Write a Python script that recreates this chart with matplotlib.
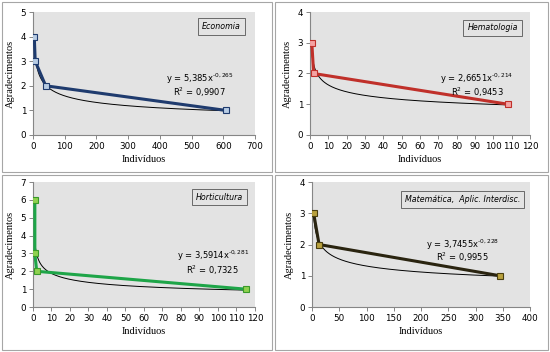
import numpy as np
import matplotlib
matplotlib.use("Agg")
import matplotlib.pyplot as plt
from matplotlib.patches import Rectangle

plt.rcParams['mathtext.default'] = 'regular'

# --- data ---
eco_x = [4, 7, 40, 608]
eco_y = [4, 3, 2, 1]
hem_x = [1, 2, 108]
hem_y = [3, 2, 1]
hor_x = [1, 1, 2, 115]
hor_y = [6, 3, 2, 1]
mat_x = [3, 13, 345]
mat_y = [3, 2, 1]

# power trendlines y = a * x^b (coefficients as printed)
eco_fit = (5.385, -0.265, '5,385', '0,265', '0,9907')
hem_fit = (2.6651, -0.214, '2,6651', '0,214', '0,9453')
hor_fit = (3.5914, -0.281, '3,5914', '0,281', '0,7325')
mat_fit = (3.7455, -0.228, '3,7455', '0,228', '0,9955')

panels = [
    dict(x=eco_x, y=eco_y, fit=eco_fit, title='Economia',
         pos=[0.06, 0.6165, 0.4036, 0.3494], xlim=700, xstep=100, ylim=5,
         line='#1F3B6E', face='#B8CCE4', edge='#1F3B6E',
         eq=(0.75, 0.46, 0.345), box=(0.85, 0.88)),
    dict(x=hem_x, y=hem_y, fit=hem_fit, title='Hematologia',
         pos=[0.5636, 0.6165, 0.40, 0.3494], xlim=120, xstep=10, ylim=4,
         line='#C0302A', face='#F4A3A3', edge='#C0302A',
         eq=(0.76, 0.46, 0.35), box=(0.83, 0.87)),
    dict(x=hor_x, y=hor_y, fit=hor_fit, title='Horticultura',
         pos=[0.06, 0.1278, 0.4036, 0.3551], xlim=120, xstep=10, ylim=7,
         line='#1EA548', face='#8FD14F', edge='#3A9A2A',
         eq=(0.81, 0.41, 0.29), box=(0.84, 0.88)),
    dict(x=mat_x, y=mat_y, fit=mat_fit, title='Matemática,  Aplic. Interdisc.',
         pos=[0.5673, 0.1278, 0.3964, 0.3551], xlim=400, xstep=50, ylim=4,
         line='#2A2410', face='#B9A13E', edge='#4A3F10',
         eq=(0.69, 0.50, 0.40), box=(0.69, 0.86)),
]

fig = plt.figure(figsize=(5.5, 3.52), dpi=100)
fig.patch.set_facecolor('white')

# panel frames
for (x0, y0, w, h) in [(2, 2, 270, 170), (275, 2, 273, 170),
                       (2, 175, 270, 175), (275, 175, 273, 175)]:
    fig.patches.append(Rectangle((x0 / 550, 1 - (y0 + h) / 352), w / 550, h / 352,
                                 transform=fig.transFigure, fill=False,
                                 edgecolor='#A6A6A6', lw=0.8))

for p in panels:
    ax = fig.add_axes(p['pos'])
    ax.set_facecolor('#E3E3E3')
    a, b, a_s, b_s, r2 = p['fit']
    xs = np.linspace(min(p['x']), max(p['x']), 400)
    ax.plot(xs, a * xs ** b, color='black', lw=0.7, zorder=2)
    ax.plot(p['x'], p['y'], color=p['line'], lw=2.2, marker='s', ms=5,
            mfc=p['face'], mec=p['edge'], mew=0.8, zorder=3)
    ax.set_xlim(0, p['xlim'])
    ax.set_ylim(0, p['ylim'])
    ax.set_xticks(np.arange(0, p['xlim'] + 1, p['xstep']))
    ax.set_yticks(np.arange(0, p['ylim'] + 1, 1))
    for s in ['top', 'right']:
        ax.spines[s].set_visible(False)
    for s in ['left', 'bottom']:
        ax.spines[s].set_color('#868686')
        ax.spines[s].set_linewidth(0.8)
    ax.tick_params(length=3, width=0.7, color='#868686', labelsize=6.3, pad=2)
    ax.set_xlabel('Indivíduos', family='Liberation Serif', fontsize=7.5, labelpad=3)
    ax.set_ylabel('Agradecimentos', family='Liberation Serif', fontsize=7.5, labelpad=4)
    ex, ey, ry = p['eq']
    ax.text(ex, ey, 'y = ' + a_s + 'x$^{\u2010' + b_s + '}$', transform=ax.transAxes,
            ha='center', va='center', fontsize=6)
    ax.text(ex, ry, 'R$^{2}$ = ' + r2, transform=ax.transAxes,
            ha='center', va='center', fontsize=6)
    bx, by = p['box']
    ax.text(bx, by, p['title'], transform=ax.transAxes, ha='center', va='center',
            fontsize=5.7, style='italic',
            bbox=dict(boxstyle='square,pad=0.5', fc='#E3E3E3', ec='#555555', lw=0.6))

fig.savefig('out.png', dpi=100)
